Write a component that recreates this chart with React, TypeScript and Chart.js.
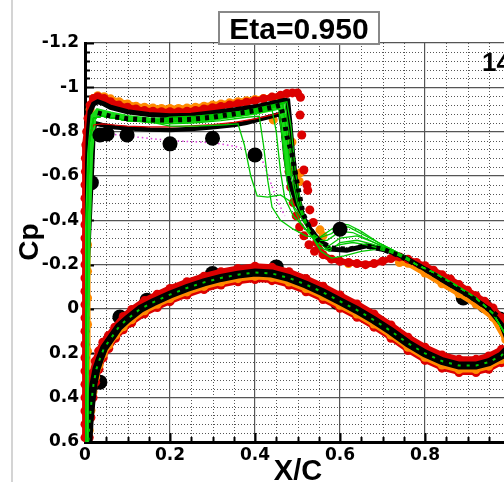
import React, { useEffect, useRef } from 'react';
import { Chart, registerables } from 'chart.js';
Chart.register(...registerables);

// ---------- axis settings ----------
const X_MIN = 0, X_MAX = 1, X_STEP = 0.2, X_MINOR = 0.05;
const Y_MIN = -1.2, Y_MAX = 0.6, Y_STEP = 0.2, Y_MINOR = 0.04;
const TITLE = 'Eta=0.950';
const CORNER_TEXT = '14';
const X_TITLE = 'X/C';
const Y_TITLE = 'Cp';

// ---------- CFD main solution (black, thick) ----------
const blackTopX = [0, 0.0005, 0.001, 0.002, 0.003, 0.005, 0.008, 0.012, 0.02, 0.03, 0.045, 0.06, 0.08, 0.1, 0.15, 0.2, 0.25, 0.3, 0.35, 0.4, 0.44, 0.47, 0.477, 0.482, 0.489, 0.499, 0.513, 0.53, 0.546, 0.576, 0.616, 0.663, 0.71, 0.75, 0.8, 0.85, 0.9, 0.95, 0.98, 1.0];
const blackTopCp = [1.0, 0.6, 0.3, 0.0, -0.3, -0.6, -0.8, -0.89, -0.925, -0.935, -0.925, -0.91, -0.9, -0.89, -0.877, -0.872, -0.874, -0.885, -0.898, -0.912, -0.928, -0.942, -0.94, -0.84, -0.69, -0.52, -0.415, -0.36, -0.32, -0.27, -0.265, -0.285, -0.265, -0.235, -0.18, -0.12, -0.065, 0.0, 0.07, 0.17];

const blackLowX = [0, 0.002, 0.006, 0.012, 0.018, 0.02, 0.024, 0.04, 0.07, 0.1, 0.15, 0.2, 0.25, 0.3, 0.35, 0.38, 0.42, 0.45, 0.459, 0.466, 0.472, 0.48, 0.49, 0.5, 0.513];
const blackLowCp = [1.0, 0.2, -0.2, -0.45, -0.7, -0.8, -0.838, -0.83, -0.82, -0.815, -0.81, -0.808, -0.812, -0.82, -0.83, -0.84, -0.86, -0.875, -0.88, -0.8, -0.68, -0.58, -0.52, -0.47, -0.415];

const lowerX = [0.0, 0.005, 0.008, 0.011, 0.015, 0.02, 0.027, 0.035, 0.045, 0.06, 0.08, 0.1, 0.13, 0.16, 0.2, 0.24, 0.28, 0.32, 0.36, 0.4, 0.44, 0.48, 0.52, 0.56, 0.6, 0.64, 0.68, 0.72, 0.76, 0.8, 0.84, 0.88, 0.92, 0.95, 0.98, 1.0];
const lowerCp = [1.0, 0.75, 0.6, 0.5, 0.42, 0.34, 0.27, 0.225, 0.175, 0.135, 0.08, 0.045, 0.0, -0.03, -0.065, -0.095, -0.12, -0.14, -0.155, -0.165, -0.16, -0.14, -0.11, -0.075, -0.035, 0.005, 0.05, 0.1, 0.155, 0.2, 0.235, 0.255, 0.255, 0.24, 0.21, 0.17];

// ---------- black dashed (square-dash) solution on green band ----------
const dashX = [0.03, 0.06, 0.1, 0.15, 0.2, 0.25, 0.3, 0.35, 0.4, 0.44, 0.46, 0.468, 0.475, 0.487, 0.5, 0.513, 0.53, 0.55, 0.58, 0.62, 0.66, 0.7, 0.74, 0.8, 0.86, 0.92, 0.97];
const dashCp = [-0.885, -0.87, -0.858, -0.853, -0.852, -0.856, -0.865, -0.88, -0.895, -0.91, -0.92, -0.86, -0.78, -0.7, -0.56, -0.43, -0.36, -0.31, -0.275, -0.27, -0.285, -0.27, -0.24, -0.18, -0.11, -0.04, 0.03];

// ---------- green thick band ----------
const greenBandX = [0, 0.002, 0.006, 0.012, 0.02, 0.03, 0.06, 0.1, 0.15, 0.2, 0.25, 0.3, 0.35, 0.4, 0.44, 0.462, 0.468, 0.474, 0.48];
const greenBandCp = [1.0, 0.3, -0.3, -0.7, -0.87, -0.892, -0.878, -0.862, -0.852, -0.848, -0.852, -0.862, -0.876, -0.89, -0.905, -0.915, -0.85, -0.72, -0.6];

// ---------- green thin lines (shared leading / trailing parts) ----------
const gPreX = [0, 0.002, 0.005, 0.01, 0.02, 0.04, 0.07, 0.1, 0.15];
const gPreCp = [1.0, 0.3, -0.4, -0.75, -0.86, -0.87, -0.86, -0.85, -0.845];
const gSufX = [0.82, 0.87, 0.92, 0.96, 1.0];
const gSufCp = [-0.165, -0.11, -0.05, 0.02, 0.15];

const g1X = [0.2, 0.26, 0.32, 0.36, 0.375, 0.39, 0.405, 0.43, 0.46, 0.48, 0.5, 0.52, 0.545, 0.57, 0.6, 0.63, 0.66, 0.7, 0.74, 0.78];
const g1Cp = [-0.825, -0.825, -0.83, -0.835, -0.74, -0.6, -0.51, -0.505, -0.515, -0.49, -0.44, -0.38, -0.31, -0.27, -0.29, -0.3, -0.29, -0.27, -0.24, -0.2];
const g2X = [0.2, 0.26, 0.32, 0.38, 0.41, 0.42, 0.43, 0.44, 0.46, 0.49, 0.52, 0.55, 0.58, 0.6, 0.62, 0.65, 0.69, 0.73, 0.78];
const g2Cp = [-0.835, -0.84, -0.85, -0.865, -0.87, -0.74, -0.58, -0.46, -0.4, -0.36, -0.33, -0.32, -0.36, -0.385, -0.38, -0.35, -0.3, -0.26, -0.2];
const g3X = [0.2, 0.26, 0.32, 0.38, 0.44, 0.45, 0.46, 0.47, 0.49, 0.52, 0.55, 0.58, 0.6, 0.62, 0.65, 0.69, 0.73, 0.78];
const g3Cp = [-0.845, -0.85, -0.86, -0.875, -0.9, -0.8, -0.62, -0.5, -0.42, -0.36, -0.32, -0.34, -0.37, -0.37, -0.34, -0.3, -0.26, -0.2];
const g4X = [0.2, 0.26, 0.32, 0.38, 0.455, 0.465, 0.475, 0.49, 0.51, 0.54, 0.57, 0.6, 0.63, 0.67, 0.71, 0.75, 0.78];
const g4Cp = [-0.85, -0.855, -0.865, -0.88, -0.915, -0.75, -0.58, -0.46, -0.38, -0.31, -0.31, -0.35, -0.345, -0.31, -0.27, -0.24, -0.2];
const g5X = [0.2, 0.26, 0.32, 0.38, 0.465, 0.475, 0.485, 0.5, 0.52, 0.545, 0.57, 0.6, 0.64, 0.68, 0.72, 0.76, 0.78];
const g5Cp = [-0.855, -0.86, -0.87, -0.885, -0.925, -0.78, -0.6, -0.47, -0.38, -0.3, -0.28, -0.32, -0.33, -0.3, -0.27, -0.23, -0.2];
const g6X = [0.2, 0.26, 0.32, 0.38, 0.47, 0.48, 0.49, 0.505, 0.525, 0.55, 0.575, 0.6, 0.64, 0.68, 0.72, 0.76, 0.78];
const g6Cp = [-0.86, -0.865, -0.875, -0.89, -0.93, -0.8, -0.6, -0.46, -0.36, -0.28, -0.26, -0.3, -0.31, -0.29, -0.26, -0.23, -0.2];
const g7X = [0.2, 0.26, 0.32, 0.38, 0.475, 0.485, 0.495, 0.51, 0.53, 0.555, 0.58, 0.61, 0.65, 0.69, 0.73, 0.78];
const g7Cp = [-0.865, -0.87, -0.88, -0.895, -0.935, -0.82, -0.62, -0.45, -0.34, -0.26, -0.23, -0.24, -0.26, -0.27, -0.25, -0.2];

// ---------- thin red line ----------
const redThinX = [0.012, 0.02, 0.04, 0.07, 0.1, 0.15, 0.2, 0.25, 0.3, 0.35, 0.4, 0.44, 0.465];
const redThinCp = [-0.78, -0.83, -0.835, -0.83, -0.825, -0.822, -0.822, -0.826, -0.832, -0.842, -0.858, -0.876, -0.888];

// ---------- magenta dotted line ----------
const magX = [0.06, 0.1, 0.15, 0.2, 0.25, 0.3, 0.35, 0.38, 0.4, 0.42, 0.435, 0.45, 0.47];
const magCp = [-0.79, -0.78, -0.77, -0.76, -0.755, -0.75, -0.735, -0.72, -0.7, -0.66, -0.58, -0.5, -0.42];

// ---------- red symbols ----------
const redUpX = [0, 0, 0, 0, 0, 0, 0, 0, 0, 0, 0, 0, 0, 0, 0, 0, 0, 0, 0, 0, 0.001, 0.001, 0.002, 0.004, 0.007, 0.012, 0.02, 0.03, 0.045, 0.06, 0.08, 0.1, 0.12, 0.14, 0.16, 0.18, 0.2, 0.22, 0.24, 0.26, 0.28, 0.3, 0.32, 0.34, 0.36, 0.38, 0.4, 0.42, 0.44, 0.46, 0.475, 0.488, 0.5, 0.507];
const redUpCp = [0.58, 0.52, 0.46, 0.4, 0.34, 0.28, 0.22, 0.16, 0.1, 0.04, -0.02, -0.08, -0.14, -0.2, -0.26, -0.32, -0.38, -0.44, -0.5, -0.56, -0.62, -0.68, -0.74, -0.8, -0.86, -0.92, -0.95, -0.958, -0.95, -0.935, -0.92, -0.91, -0.902, -0.895, -0.892, -0.89, -0.89, -0.89, -0.892, -0.896, -0.902, -0.908, -0.914, -0.92, -0.926, -0.933, -0.94, -0.948, -0.956, -0.964, -0.972, -0.975, -0.975, -0.955];
const redShockX = [0.468, 0.472, 0.476, 0.48, 0.484, 0.49, 0.497, 0.505, 0.515, 0.527, 0.54, 0.506, 0.51, 0.515, 0.522, 0.524, 0.529, 0.537];
const redShockCp = [-0.86, -0.78, -0.7, -0.62, -0.55, -0.48, -0.42, -0.37, -0.33, -0.29, -0.26, -0.875, -0.785, -0.627, -0.56, -0.535, -0.447, -0.39];
const redAftX = [0.545, 0.56, 0.58, 0.6, 0.62, 0.64, 0.66, 0.68, 0.7, 0.72, 0.74, 0.76, 0.78, 0.8, 0.82, 0.84, 0.86, 0.88, 0.9, 0.92, 0.94, 0.96, 0.98, 1.0];
const redAftCp = [-0.3, -0.245, -0.225, -0.215, -0.21, -0.205, -0.2, -0.205, -0.215, -0.228, -0.235, -0.225, -0.21, -0.195, -0.175, -0.155, -0.135, -0.11, -0.085, -0.06, -0.035, -0.005, 0.04, 0.12];
const redLowX = [0.004, 0.006, 0.009, 0.013, 0.018, 0.024, 0.032, 0.042, 0.055, 0.07, 0.09, 0.11, 0.14, 0.17, 0.2, 0.24, 0.28, 0.32, 0.36, 0.4, 0.44, 0.48, 0.52, 0.56, 0.6, 0.64, 0.68, 0.72, 0.76, 0.8, 0.84, 0.88, 0.92, 0.95, 0.98];
const redLowCp = [0.58, 0.5, 0.42, 0.35, 0.29, 0.235, 0.19, 0.15, 0.12, 0.082, 0.034, 0.002, -0.038, -0.067, -0.093, -0.123, -0.148, -0.168, -0.183, -0.193, -0.188, -0.168, -0.138, -0.103, -0.063, -0.023, 0.022, 0.072, 0.127, 0.172, 0.207, 0.227, 0.227, 0.212, 0.182];
const redLow2X = [0.01, 0.014, 0.019, 0.025, 0.033, 0.043, 0.056, 0.072, 0.09, 0.11, 0.14, 0.17, 0.2, 0.24, 0.28, 0.32, 0.36, 0.4, 0.44, 0.48, 0.52, 0.56, 0.6, 0.64, 0.68, 0.72, 0.76, 0.8, 0.84, 0.88, 0.92, 0.95, 0.98];
const redLow2Cp = [0.58, 0.49, 0.4, 0.33, 0.272, 0.22, 0.178, 0.132, 0.094, 0.062, 0.022, -0.007, -0.033, -0.063, -0.088, -0.108, -0.123, -0.133, -0.128, -0.108, -0.078, -0.043, -0.003, 0.037, 0.082, 0.132, 0.187, 0.232, 0.267, 0.287, 0.287, 0.272, 0.242];

// ---------- orange symbols ----------
const orUpX = [0.006, 0.006, 0.006, 0.006, 0.006, 0.006, 0.006, 0.006, 0.006, 0.006, 0.006, 0.008, 0.012, 0.02, 0.03, 0.045, 0.06, 0.08, 0.1, 0.12, 0.14, 0.16, 0.18, 0.2, 0.22, 0.24, 0.26, 0.28, 0.3, 0.32, 0.34, 0.36, 0.38, 0.4, 0.42, 0.44, 0.46];
const orUpCp = [0.55, 0.43, 0.31, 0.19, 0.07, -0.05, -0.17, -0.29, -0.41, -0.53, -0.65, -0.77, -0.9, -0.95, -0.962, -0.958, -0.948, -0.935, -0.925, -0.915, -0.91, -0.907, -0.905, -0.905, -0.905, -0.907, -0.91, -0.915, -0.92, -0.925, -0.93, -0.935, -0.94, -0.945, -0.95, -0.955, -0.96];
const orShockX = [0.443, 0.487, 0.482, 0.506, 0.504, 0.553, 0.56, 0.62];
const orShockCp = [-0.853, -0.753, -0.64, -0.614, -0.575, -0.357, -0.33, -0.205];
const orAftX = [0.74, 0.76, 0.8, 0.84, 0.88, 0.92, 0.96, 0.99];
const orAftCp = [-0.21, -0.206, -0.162, -0.114, -0.069, -0.022, 0.038, 0.138];
const orLowX = [0.01, 0.014, 0.019, 0.025, 0.033, 0.043, 0.056, 0.072, 0.09, 0.11, 0.14, 0.17, 0.2, 0.24, 0.28, 0.32, 0.36, 0.4, 0.44, 0.48, 0.52, 0.56, 0.6, 0.64, 0.68, 0.72, 0.76, 0.8, 0.84, 0.88, 0.92, 0.95, 0.98];
const orLowCp = [0.548, 0.458, 0.373, 0.308, 0.254, 0.203, 0.163, 0.118, 0.08, 0.048, 0.008, -0.021, -0.047, -0.077, -0.102, -0.122, -0.137, -0.147, -0.142, -0.122, -0.092, -0.057, -0.017, 0.023, 0.068, 0.118, 0.173, 0.218, 0.253, 0.273, 0.273, 0.258, 0.228];

// ---------- experiment (large black circles) ----------
const expFrontX = [0.035, 0.052, 0.099, 0.2, 0.3, 0.4, 0.6];
const expFrontCp = [-0.785, -0.79, -0.785, -0.745, -0.77, -0.695, -0.36];
const expBackX = [0.015, 0.89, 0.94, 0.976, 0.035, 0.082, 0.146, 0.3, 0.45, 0.593];
const expBackCp = [-0.57, -0.05, -0.015, 0.045, 0.33, 0.036, -0.04, -0.16, -0.19, -0.03];

const RED = '#dc0000';
const ORANGE = '#ff8a00';
const GREEN = '#00c800';
const GREEN_BAND = '#18dc18';

const pts = (xs: number[], ys: number[]) => xs.map((x, i) => ({ x, y: ys[i] }));

function lineDs(xs: number[], ys: number[], color: string, width: number, extra: any = {}) {
  return { data: pts(xs, ys), showLine: true, borderColor: color, borderWidth: width, pointRadius: 0, fill: false, tension: 0, ...extra };
}
function dotDs(xs: number[], ys: number[], color: string, r: number, lineWidth: number, extra: any = {}) {
  return {
    data: pts(xs, ys), showLine: lineWidth > 0, borderColor: color, borderWidth: lineWidth,
    pointRadius: r, pointBackgroundColor: color, pointBorderWidth: 0, pointBorderColor: color,
    fill: false, tension: 0, clip: false, ...extra,
  };
}

const decorPlugin = {
  id: 'decor',
  beforeDraw(chart: any) {
    const { ctx } = chart;
    ctx.save();
    ctx.fillStyle = '#ffffff';
    ctx.fillRect(0, 0, chart.width, chart.height);
    ctx.strokeStyle = '#d4d4d4';
    ctx.lineWidth = 2;
    ctx.beginPath();
    ctx.moveTo(12, 0);
    ctx.lineTo(12, chart.height);
    ctx.stroke();
    ctx.restore();
  },
  beforeDatasetsDraw(chart: any) {
    const { ctx, chartArea: a, scales } = chart;
    const xs = scales.x, ys = scales.y;
    ctx.save();
    ctx.strokeStyle = '#555';
    ctx.lineWidth = 1;
    ctx.setLineDash([1, 2]);
    const nx = Math.round((X_MAX - X_MIN) / X_MINOR);
    const perX = Math.round(X_STEP / X_MINOR);
    for (let k = 0; k <= nx; k++) {
      if (k % perX === 0) continue;
      const px = Math.round(xs.getPixelForValue(X_MIN + k * X_MINOR)) + 0.5;
      ctx.beginPath(); ctx.moveTo(px, a.top); ctx.lineTo(px, a.bottom); ctx.stroke();
    }
    const ny = Math.round((Y_MAX - Y_MIN) / Y_MINOR);
    const perY = Math.round(Y_STEP / Y_MINOR);
    for (let k = 0; k <= ny; k++) {
      if (k % perY === 0) continue;
      const py = Math.round(ys.getPixelForValue(Y_MIN + k * Y_MINOR)) + 0.5;
      ctx.beginPath(); ctx.moveTo(a.left, py); ctx.lineTo(a.right, py); ctx.stroke();
    }
    ctx.setLineDash([]);
    ctx.strokeStyle = '#000';
    ctx.lineWidth = 2;
    for (let k = 0; k <= ny; k++) {
      const len = k % perY === 0 ? 9 : 5;
      const py = Math.round(ys.getPixelForValue(Y_MIN + k * Y_MINOR)) + 0.5;
      ctx.beginPath(); ctx.moveTo(a.left, py); ctx.lineTo(a.left + len, py); ctx.stroke();
    }
    for (let k = 0; k <= nx; k++) {
      const len = k % perX === 0 ? 9 : 5;
      const px = Math.round(xs.getPixelForValue(X_MIN + k * X_MINOR)) + 0.5;
      ctx.beginPath(); ctx.moveTo(px, a.bottom); ctx.lineTo(px, a.bottom - len); ctx.stroke();
    }
    ctx.restore();
  },
  afterDraw(chart: any) {
    const { ctx } = chart;
    const fam = '"Liberation Sans", Arial, sans-serif';
    ctx.save();
    ctx.fillStyle = '#fff';
    ctx.fillRect(219, 12, 160, 32);
    ctx.strokeStyle = '#888';
    ctx.lineWidth = 2;
    ctx.strokeRect(219, 12, 160, 32);
    ctx.fillStyle = '#000';
    ctx.textAlign = 'center';
    ctx.textBaseline = 'alphabetic';
    ctx.font = `bold 30px ${fam}`;
    ctx.fillText(TITLE, 299, 39);
    ctx.textAlign = 'left';
    ctx.font = `bold 26px ${fam}`;
    ctx.fillText(CORNER_TEXT, 482, 71);
    ctx.textAlign = 'center';
    ctx.font = `bold 29px ${fam}`;
    ctx.fillText(X_TITLE, 298, 480);
    ctx.translate(38, 242);
    ctx.rotate(-Math.PI / 2);
    ctx.font = `bold 28px ${fam}`;
    ctx.fillText(Y_TITLE, 0, 0);
    ctx.restore();
  },
};

export default function App() {
  const ref = useRef<HTMLCanvasElement | null>(null);
  useEffect(() => {
    if (!ref.current) return;
    const datasets: any[] = [
      dotDs(expFrontX, expFrontCp, '#000', 7.5, 0),
      lineDs(dashX, dashCp, '#000', 5, { borderDash: [4, 5] }),
      lineDs(lowerX, lowerCp, GREEN, 2, { borderDash: [3, 6] }),
      lineDs([...gPreX, ...g1X, ...gSufX], [...gPreCp, ...g1Cp, ...gSufCp], GREEN, 1.3),
      lineDs([...gPreX, ...g2X, ...gSufX], [...gPreCp, ...g2Cp, ...gSufCp], GREEN, 1.3),
      lineDs([...gPreX, ...g3X, ...gSufX], [...gPreCp, ...g3Cp, ...gSufCp], GREEN, 1.3),
      lineDs([...gPreX, ...g4X, ...gSufX], [...gPreCp, ...g4Cp, ...gSufCp], GREEN, 1.3),
      lineDs([...gPreX, ...g5X, ...gSufX], [...gPreCp, ...g5Cp, ...gSufCp], GREEN, 1.3),
      lineDs([...gPreX, ...g6X, ...gSufX], [...gPreCp, ...g6Cp, ...gSufCp], GREEN, 1.3),
      lineDs([...gPreX, ...g7X, ...gSufX], [...gPreCp, ...g7Cp, ...gSufCp], GREEN, 1.3),
      lineDs(redThinX, redThinCp, RED, 1.2),
      lineDs(greenBandX, greenBandCp, GREEN_BAND, 6),
      lineDs(blackTopX, blackTopCp, '#000', 5),
      lineDs(blackLowX, blackLowCp, '#000', 4.5),
      lineDs(lowerX, lowerCp, '#000', 8),
      dotDs(redShockX, redShockCp, RED, 4.5, 0),
      dotDs(redUpX, redUpCp, RED, 4.5, 6),
      dotDs(redAftX, redAftCp, RED, 4.5, 6),
      dotDs(redLowX, redLowCp, RED, 4.5, 6),
      dotDs(orShockX, orShockCp, ORANGE, 4.5, 0),
      dotDs(orUpX, orUpCp, ORANGE, 4.5, 6),
      dotDs(orAftX, orAftCp, ORANGE, 4.5, 6),
      dotDs(orLowX, orLowCp, ORANGE, 4.5, 6),
      dotDs(redLow2X, redLow2Cp, RED, 4.5, 5),
      lineDs(magX, magCp, '#e040e0', 1.5, { borderDash: [1.5, 3] }),
      dotDs(expBackX, expBackCp, '#000', 7.5, 0),
    ];
    const tickFont = { family: '"DejaVu Sans", sans-serif', weight: 'bold' as const, size: 17 };
    const chart = new Chart(ref.current, {
      type: 'scatter',
      data: { datasets },
      plugins: [decorPlugin],
      options: {
        animation: false,
        responsive: false,
        devicePixelRatio: 1,
        events: [],
        layout: { padding: { top: 43, right: 20, left: 0, bottom: 0 } },
        plugins: { legend: { display: false }, tooltip: { enabled: false }, title: { display: false } },
        scales: {
          x: {
            type: 'linear', min: X_MIN, max: X_MAX,
            afterFit: (s: any) => { s.height = 40; },
            ticks: {
              stepSize: X_STEP, autoSkip: false, color: '#000', font: tickFont, padding: 3, maxRotation: 0,
              callback: (v: any) => String(Math.round(Number(v) * 10) / 10),
            },
            grid: { color: '#555', lineWidth: 1.2, drawTicks: false },
            border: { display: true, color: '#000', width: 3 },
          },
          y: {
            type: 'linear', min: Y_MIN, max: Y_MAX, reverse: true,
            afterFit: (s: any) => { s.width = 85; },
            ticks: {
              stepSize: Y_STEP, autoSkip: false, color: '#000', font: tickFont, padding: 6,
              callback: (v: any) => String(Math.round(Number(v) * 10) / 10),
            },
            grid: { color: '#555', lineWidth: 1.2, drawTicks: false },
            border: { display: true, color: '#000', width: 3 },
          },
        },
      } as any,
    });
    return () => chart.destroy();
  }, []);
  return (
    <div style={{ position: 'fixed', left: 0, top: 0, width: 504, height: 482, overflow: 'hidden', background: '#fff' }}>
      <canvas ref={ref} width={530} height={482} style={{ display: 'block', width: 530, height: 482 }} />
    </div>
  );
}
